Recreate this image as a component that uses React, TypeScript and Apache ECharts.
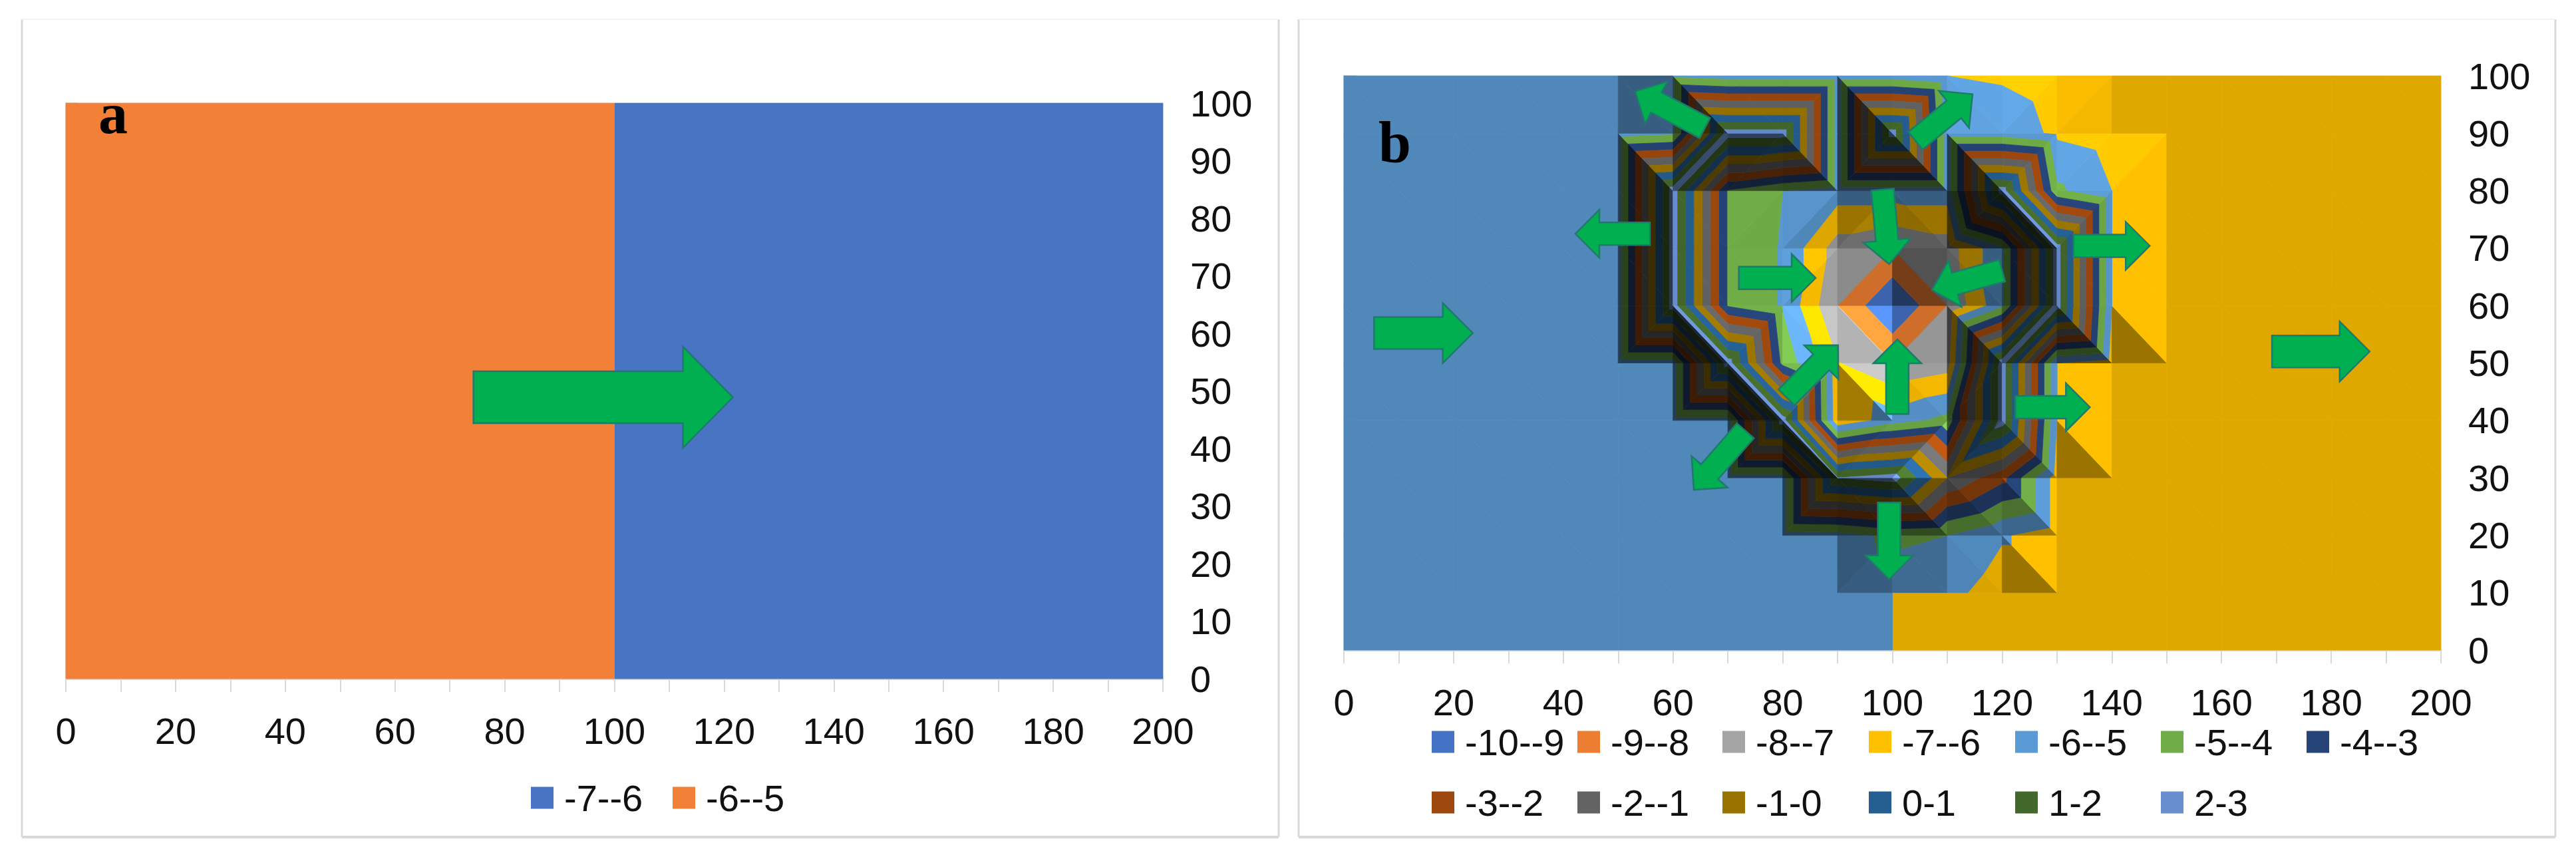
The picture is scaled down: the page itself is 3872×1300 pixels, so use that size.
import React, { useEffect, useRef } from "react";
import * as echarts from "echarts";

const xTicks = [0,10,20,30,40,50,60,70,80,90,100,110,120,130,140,150,160,170,180,190,200];
const yNodes = [0,10,20,30,40,50,60,70,80,90,100];

// panel a
const aNames = ["-7--6", "-6--5"];
const aColors = ["#4775C4", "#F28036"];
const aXRanges = [[100, 200], [0, 100]];
const aArrows = [[74.3, 48.9, 121.6, 48.9]];

// panel b: band names, colours, lower limits
const bNames = ["-10--9","-9--8","-8--7","-7--6","-6--5","-5--4","-4--3","-3--2","-2--1","-1-0","0-1","1-2","2-3"];
const bLows = [-10,-9,-8,-7,-6,-5,-4,-3,-2,-1,0,1,2];
const bColors = ["#4472C4","#ED7D31","#A5A5A5","#FFC000","#5B9BD5","#70AD47","#264478","#9E480E","#636363","#997300","#255E91","#43682B","#698ED0"];

// panel b: surface heights, one row per y, one value per x tick
const L = -5.5;
const R = -6.5;
const z100 = [L,L,L,L,L, L,-5.2,L,L,L, L,-6,-6.1,-6.4,R, R,R,R,R,R,R];
const z90  = [L,L,L,L,L, L,-5.2,2.5,2.5,L, 2.5,L,L,-6.16,R, R,R,R,R,R,R];
const z80  = [L,L,L,L,L, L,2.5,-4.1,-5,L, L,L,2.5,-4.8,-6, R,R,R,R,R,R];
const z70  = [L,L,L,L,L, L,2.5,-4.1,-5.1,-7.5, -8,-7.5,-5.2,2.5,-6, R,R,R,R,R,R];
const z60  = [L,L,L,L,L, L,2.5,-4.1,-5.1,-8, -10,-8,-5.2,2.5,-6, R,R,R,R,R,R];
const z50  = [L,L,L,L,L, L,L,2.5,-4.3,-6.95, -8,-7.5,2.5,-6,R, R,R,R,R,R,R];
const z40  = [L,L,L,L,L, L,L,L,2.5,-6.8, -5.5,-4.7,2.5,-6,R, R,R,R,R,R,R];
const z30  = [L,L,L,L,L, L,L,L,L,2, 2.5,-1,-2.7,R,R, R,R,R,R,R,R];
const z20  = [L,L,L,L,L, L,L,L,L,-5.4, -4.8,-5,-5.9,R,R, R,R,R,R,R,R];
const z10  = [L,L,L,L,L, L,L,L,L,L, L,-5.7,R,R,R, R,R,R,R,R,R];
const z0   = [L,L,L,L,L, L,L,L,L,L, -6,R,R,R,R, R,R,R,R,R,R];
const zRows = [z0,z10,z20,z30,z40,z50,z60,z70,z80,z90,z100];
// cells (lower-left corner) that stay flat beside the stepped outline
const plainCells = ["80,10"];

// arrows: tail x, y, tip x, y, big flag
const bArrows = [
  [5.5,55.2,23.5,55.2,1],[65.8,90.9,53.1,97.3,0],[104.2,88.7,114.6,96.8,0],[55.8,72.5,42.2,72.5,0],
  [98.2,80.2,99.4,67.2,0],[133,70.4,146.9,70.4,0],[72,64.8,86,64.8,0],[120,66.1,107.2,62.7,0],
  [122.4,42.3,136,42.3,0],[100.9,41.1,100.9,54.1,0],[80.7,44,90.1,53.1,0],[73.2,38.2,63.8,27.9,0],
  [99.4,25.7,99.4,12.3,0],[169.2,52,187,52,1],
];

type P = [number, number, number];
type Poly = { pts: P[]; fill: string };

function shadeColor(hex: string, f: number) {
  const n = parseInt(hex.slice(1), 16);
  const c = [(n >> 16) & 255, (n >> 8) & 255, n & 255].map((v) => Math.max(0, Math.min(255, Math.round(v * f))));
  return `rgb(${c[0]},${c[1]},${c[2]})`;
}

function facetShade(a: P, b: P, c: P) {
  // gradient per 10 units on the triangle
  const d = (b[0]-a[0])*(c[1]-a[1]) - (c[0]-a[0])*(b[1]-a[1]);
  const gx = (((b[2]-a[2])*(c[1]-a[1]) - (c[2]-a[2])*(b[1]-a[1])) / d) * 10;
  const gy = (((c[2]-a[2])*(b[0]-a[0]) - (b[2]-a[2])*(c[0]-a[0])) / d) * 10;
  const g = Math.hypot(gx, gy);
  if (g < 1e-6) return 0.875;
  const dot = -(gx + gy) / (Math.SQRT2 * g);
  const steep = Math.max(0, Math.min(1, (g - 3) / 6));
  if (dot >= 0) {
    if (g < 1.5) return 0.875 + ((-gx * 0.125 - gy * 0.175) / g) * Math.min(1, g / 0.5);
    const f = 0.875 + (0.45 - 0.25 * steep) * dot * dot * dot;
    return f - 0.35 * steep * Math.max(0, 1 - dot * 1.6);
  }
  const amp = 0.38 + 0.37 * steep;
  return Math.max(0.25, 0.875 + dot * amp - 0.35 * steep * Math.max(0, 1 + dot * 1.6));
}

function clip(pts: P[], lim: number, keepAbove: boolean): P[] {
  const out: P[] = [];
  const inside = (p: P) => (keepAbove ? p[2] >= lim : p[2] <= lim);
  for (let i = 0; i < pts.length; i++) {
    const a = pts[i], b = pts[(i + 1) % pts.length];
    if (inside(a)) out.push(a);
    if (inside(a) !== inside(b)) {
      const t = (lim - a[2]) / (b[2] - a[2]);
      out.push([a[0] + t*(b[0]-a[0]), a[1] + t*(b[1]-a[1]), lim]);
    }
  }
  return out;
}

function buildBandPolys(): Poly[][] {
  const polys: Poly[][] = bNames.map(() => []);
  for (let j = 0; j < yNodes.length - 1; j++) {
    for (let i = 0; i < xTicks.length - 1; i++) {
      const x0 = xTicks[i], x1 = xTicks[i+1], y0 = yNodes[j], y1 = yNodes[j+1];
      if (y0 < 10 || plainCells.includes(`${x0},${y0}`)) {
        const flat = x0 < 100 ? L : R;
        const k = bLows.findIndex((lo) => flat >= lo && flat < lo + 1);
        polys[k].push({ pts: [[x0,y0,flat],[x1,y0,flat],[x1,y1,flat],[x0,y1,flat]], fill: shadeColor(bColors[k], 0.875) });
        continue;
      }
      const bl: P = [x0,y0,zRows[j][i]], br: P = [x1,y0,zRows[j][i+1]];
      const tl: P = [x0,y1,zRows[j+1][i]], tr: P = [x1,y1,zRows[j+1][i+1]];
      // the cell folds along its higher diagonal
      const tris: P[][] = bl[2] + tr[2] > tl[2] + br[2] ? [[bl,br,tr],[bl,tr,tl]] : [[bl,br,tl],[tr,tl,br]];
      for (const tri of tris) {
        const f = facetShade(tri[0], tri[1], tri[2]);
        bLows.forEach((lo, k) => {
          let p = clip(tri, lo, true);
          if (p.length) p = clip(p, lo + 1, false);
          if (p.length >= 3) polys[k].push({ pts: p, fill: shadeColor(bColors[k], f) });
        });
      }
    }
  }
  return polys;
}

const polySeries = (name: string, color: string, polys: Poly[]) => ({
  type: "custom",
  name,
  coordinateSystem: "cartesian2d",
  itemStyle: { color },
  z: 2,
  silent: true,
  encode: { x: 0, y: 1 },
  data: polys.map((p) => [p.pts[0][0], p.pts[0][1]]),
  renderItem: (params: any, api: any) => {
    const poly = polys[params.dataIndex];
    return {
      type: "polygon",
      shape: { points: poly.pts.map((q) => api.coord([q[0], q[1]])) },
      style: { fill: poly.fill, stroke: poly.fill, lineWidth: 0.8 },
    };
  },
});

const arrowSeries = (list: number[][], bigSize: number[], smallSize: number[]) => ({
  type: "custom",
  coordinateSystem: "cartesian2d",
  z: 5,
  silent: true,
  clip: false,
  encode: { x: 0, y: 1 },
  data: list.map((a) => [a[0], a[1]]),
  renderItem: (params: any, api: any) => {
    const a = list[params.dataIndex];
    const [sh, hh, hl] = a[4] ? bigSize : smallSize;
    const t = api.coord([a[0], a[1]]);
    const h = api.coord([a[2], a[3]]);
    const len = Math.hypot(h[0]-t[0], h[1]-t[1]);
    const ux = (h[0]-t[0]) / len, uy = (h[1]-t[1]) / len;
    const pt = (u: number, v: number) => [t[0] + ux*u - uy*v, t[1] + uy*u + ux*v];
    return {
      type: "polygon",
      shape: { points: [pt(0,-sh), pt(len-hl,-sh), pt(len-hl,-hh), pt(len,0), pt(len-hl,hh), pt(len-hl,sh), pt(0,sh)] },
      style: { fill: "#00B050", stroke: "#1F7A6C", lineWidth: 2.5 },
    };
  },
});

const FONT = "Liberation Sans";
const AXC = "#D9D9D9";
const axes = () => ({
  xAxis: {
    type: "value", min: 0, max: 200, interval: 10,
    axisLine: { show: true, lineStyle: { color: AXC, width: 3 } },
    axisTick: { show: true, length: 20, lineStyle: { color: AXC, width: 2 } },
    splitLine: { show: false },
    axisLabel: { margin: 50, fontSize: 56, fontFamily: FONT, color: "#111", formatter: (v: number) => (v % 20 === 0 ? String(v) : "") },
  },
  yAxis: {
    type: "value", position: "right", min: 0, max: 100, interval: 10,
    axisLine: { show: true, lineStyle: { color: AXC, width: 3 } },
    axisTick: { show: true, length: 18, lineStyle: { color: AXC, width: 2 } },
    splitLine: { show: false },
    axisLabel: { margin: 41, fontSize: 56, fontFamily: FONT, color: "#111", align: "left" },
  },
});

const legendItem = (name: string, left: number, top: number) => ({
  show: true, selectedMode: false, left, top, orient: "horizontal", padding: 0,
  itemWidth: 34, itemHeight: 33, itemGap: 0,
  data: [{ name, icon: "rect" }],
  textStyle: { fontSize: 56, fontFamily: FONT, color: "#111", padding: [0, 0, 0, 11] },
});

const frame = (x0: number, y0: number, x1: number, y1: number) => [
  { type: "line", shape: { x1: x0, y1: y0, x2: x0, y2: y1 }, style: { stroke: AXC, lineWidth: 3 } },
  { type: "line", shape: { x1: x1, y1: y0, x2: x1, y2: y1 }, style: { stroke: AXC, lineWidth: 3 } },
  { type: "line", shape: { x1: x0, y1: y1, x2: x1, y2: y1 }, style: { stroke: AXC, lineWidth: 4 } },
  { type: "line", shape: { x1: x0, y1: y0, x2: x1, y2: y0 }, style: { stroke: "#F2F2F2", lineWidth: 2 } },
];

const letter = (text: string, x: number, y: number) => ({
  type: "text", x, y, z: 10,
  style: { text, fontFamily: "Liberation Serif", fontWeight: "bold", fontSize: 88, fill: "#000" },
});

const rectPoly = (x0: number, x1: number, color: string): Poly[] => [
  { pts: [[x0,0,0],[x1,0,0],[x1,100,0],[x0,100,0]], fill: color },
];

export default function App() {
  const aRef = useRef<HTMLDivElement>(null);
  const bRef = useRef<HTMLDivElement>(null);
  useEffect(() => {
    const a = echarts.init(aRef.current!, null, { renderer: "svg" });
    a.setOption({
      animation: false,
      backgroundColor: "#fff",
      grid: { left: 99, top: 155, width: 1649, height: 865 },
      ...axes(),
      legend: [legendItem(aNames[0], 798, 1171), legendItem(aNames[1], 1011, 1171)],
      graphic: [...frame(33, 29, 1922, 1258), letter("a", 148, 126)],
      series: [
        ...aNames.map((n, i) => polySeries(n, aColors[i], rectPoly(aXRanges[i][0], aXRanges[i][1], aColors[i]))),
        arrowSeries(aArrows.map((r) => [...r, 1]), [39, 76, 75], [39, 76, 75]),
      ],
    });

    const bandPolys = buildBandPolys();
    const b = echarts.init(bRef.current!, null, { renderer: "svg" });
    const colLefts = [216, 435, 653, 873, 1093, 1312, 1531];
    const rowTops = [1087, 1178];
    b.setOption({
      animation: false,
      backgroundColor: "#fff",
      grid: { left: 84, top: 114, width: 1649, height: 863 },
      ...axes(),
      legend: bNames.map((n, i) => legendItem(n, colLefts[i < 7 ? i : i - 7], rowTops[i < 7 ? 0 : 1])),
      graphic: [...frame(16, 29, 1905, 1258), letter("b", 136, 170)],
      series: [
        ...bNames.map((n, i) => polySeries(n, bColors[i], bandPolys[i])),
        arrowSeries(bArrows, [24, 45, 45], [17, 36, 36]),
      ],
    });
    return () => { a.dispose(); b.dispose(); };
  }, []);
  return (
    <div style={{ position: "absolute", left: 0, top: 0, width: 3872, height: 1300, background: "#fff" }}>
      <div ref={aRef} style={{ position: "absolute", left: 0, top: 0, width: 1936, height: 1300 }} />
      <div ref={bRef} style={{ position: "absolute", left: 1936, top: 0, width: 1936, height: 1300 }} />
    </div>
  );
}
